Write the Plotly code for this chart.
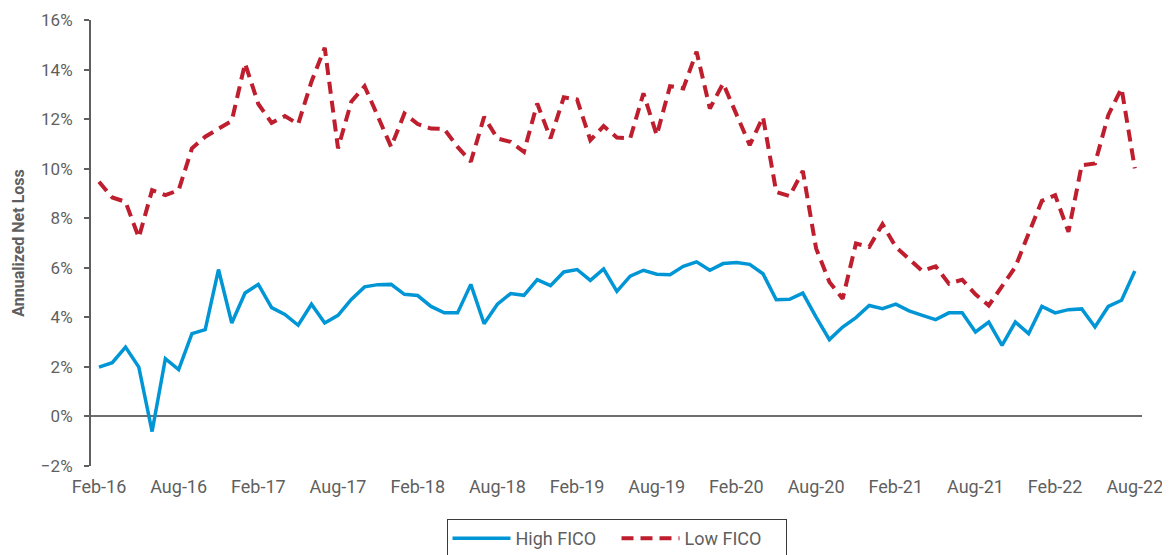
import plotly.graph_objects as go

months = ["Feb-16","Mar-16","Apr-16","May-16","Jun-16","Jul-16","Aug-16","Sep-16","Oct-16","Nov-16","Dec-16","Jan-17",
          "Feb-17","Mar-17","Apr-17","May-17","Jun-17","Jul-17","Aug-17","Sep-17","Oct-17","Nov-17","Dec-17","Jan-18",
          "Feb-18","Mar-18","Apr-18","May-18","Jun-18","Jul-18","Aug-18","Sep-18","Oct-18","Nov-18","Dec-18","Jan-19",
          "Feb-19","Mar-19","Apr-19","May-19","Jun-19","Jul-19","Aug-19","Sep-19","Oct-19","Nov-19","Dec-19","Jan-20",
          "Feb-20","Mar-20","Apr-20","May-20","Jun-20","Jul-20","Aug-20","Sep-20","Oct-20","Nov-20","Dec-20","Jan-21",
          "Feb-21","Mar-21","Apr-21","May-21","Jun-21","Jul-21","Aug-21","Sep-21","Oct-21","Nov-21","Dec-21","Jan-22",
          "Feb-22","Mar-22","Apr-22","May-22","Jun-22","Jul-22","Aug-22"]

high_fico = [1.99, 2.17, 2.80, 1.99, -0.61, 2.33, 1.89, 3.34, 3.50, 5.93, 3.77, 4.98,
             5.33, 4.39, 4.12, 3.68, 4.53, 3.77, 4.08, 4.72, 5.23, 5.32, 5.33, 4.93,
             4.88, 4.44, 4.18, 4.18, 5.33, 3.74, 4.53, 4.96, 4.89, 5.52, 5.28, 5.83,
             5.93, 5.49, 5.95, 5.05, 5.66, 5.90, 5.74, 5.72, 6.06, 6.24, 5.90, 6.17,
             6.21, 6.14, 5.76, 4.71, 4.73, 4.98, 4.01, 3.10, 3.61, 3.99, 4.48, 4.35,
             4.53, 4.26, 4.08, 3.91, 4.18, 4.18, 3.41, 3.81, 2.87, 3.81, 3.34, 4.44,
             4.18, 4.31, 4.34, 3.61, 4.44, 4.69, 5.87]

low_fico = [9.47, 8.84, 8.66, 7.22, 9.13, 8.93, 9.13, 10.82, 11.29, 11.62, 11.93, 14.25,
            12.61, 11.85, 12.12, 11.80, 13.51, 14.88, 10.82, 12.70, 13.33, 12.11, 10.88, 12.23,
            11.80, 11.62, 11.60, 10.88, 10.28, 12.09, 11.22, 11.08, 10.68, 12.63, 11.22, 12.88,
            12.79, 11.15, 11.72, 11.26, 11.22, 13.04, 11.35, 13.33, 13.24, 14.72, 12.43, 13.44,
            12.23, 10.95, 12.09, 9.06, 8.89, 9.91, 6.78, 5.43, 4.75, 6.98, 6.84, 7.76,
            6.84, 6.37, 5.87, 6.06, 5.36, 5.52, 4.93, 4.48, 5.23, 6.03, 7.38, 8.70,
            8.93, 7.45, 10.14, 10.21, 12.16, 13.24, 10.01]

y_ticks = [-2, 0, 2, 4, 6, 8, 10, 12, 14, 16]
y_tick_labels = ["\u22122%", "0%", "2%", "4%", "6%", "8%", "10%", "12%", "14%", "16%"]
x_tick_idx = list(range(0, len(months), 6))
x_tick_labels = [months[i] for i in x_tick_idx]

idx = list(range(len(months)))
gray = "#5f5f5f"
font_family = "Roboto, 'DejaVu Sans', sans-serif"

fig = go.Figure()
fig.add_trace(go.Scatter(x=idx, y=high_fico, mode="lines", name="High FICO",
                         line=dict(color="#0096D6", width=3.5)))
fig.add_trace(go.Scatter(x=idx, y=low_fico, mode="lines", name="Low FICO",
                         line=dict(color="#BE1E2D", width=4, dash="12px,7px")))

# the page body has an 8px default margin, so the figure is 8px smaller than the window
fig.update_layout(
    width=1162, height=547,
    margin=dict(l=83, r=28, t=12, b=89, autoexpand=False),
    paper_bgcolor="white", plot_bgcolor="white",
    font=dict(family=font_family, color=gray, size=17),
    showlegend=True,
    legend=dict(orientation="h", xanchor="center", x=0.5, yanchor="top", y=-0.119,
                bordercolor="#3a3a3a", borderwidth=1, font=dict(size=18, color=gray),
                itemwidth=58, entrywidth=96, entrywidthmode="pixels"),
    xaxis=dict(range=[-0.6, 78.54], tickmode="array", tickvals=x_tick_idx, ticktext=x_tick_labels,
               showgrid=False, zeroline=False, showline=False, ticks="", automargin=False,
               ticklabelstandoff=8, tickfont=dict(size=18, color=gray)),
    yaxis=dict(range=[-2, 16], tickmode="array", tickvals=y_ticks, ticktext=y_tick_labels,
               showgrid=False, zeroline=True, zerolinecolor="#6e6e6e", zerolinewidth=2,
               showline=True, linecolor=gray, linewidth=2, automargin=False,
               ticks="outside", ticklen=5, tickwidth=2, tickcolor=gray,
               tickfont=dict(size=17, color=gray), ticklabelstandoff=8,
               title=dict(text="<b>Annualized Net Loss</b>", font=dict(size=16, color=gray), standoff=12)),
)

fig.write_html("out.html")
